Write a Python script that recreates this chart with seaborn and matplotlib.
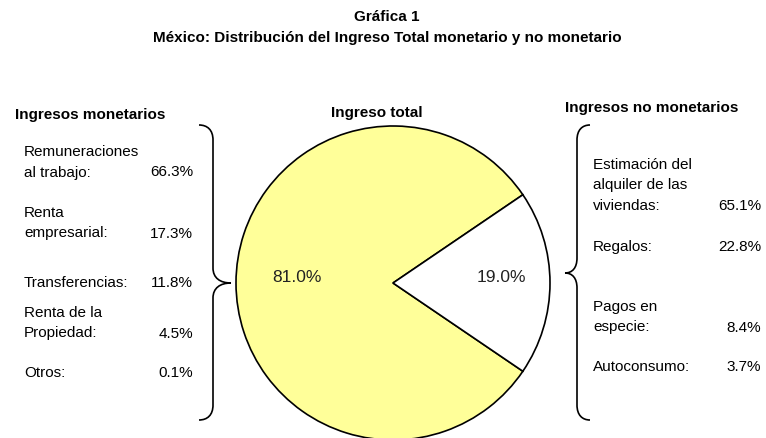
import matplotlib
matplotlib.use("Agg")
import numpy as np
import matplotlib.pyplot as plt
import seaborn as sns
from matplotlib.path import Path
from matplotlib.patches import PathPatch

# --- Data
total_parts = ["Ingresos monetarios", "Ingresos no monetarios"]
total_shares = [81.0, 19.0]
total_colors = ["#FFFF99", "#FFFFFF"]

mon_items = ["Remuneraciones\nal trabajo:", "Renta\nempresarial:", "Transferencias:",
             "Renta de la\nPropiedad:", "Otros:"]
mon_shares = [66.3, 17.3, 11.8, 4.5, 0.1]

nomon_items = ["Estimación del\nalquiler de las\nviviendas:", "Regalos:",
               "Pagos en\nespecie:", "Autoconsumo:"]
nomon_shares = [65.1, 22.8, 8.4, 3.7]

# --- Layout (pixel coordinates, y grows downward)
W, H = 766, 438
mon_y = [152, 213, 283, 313, 373]
nomon_y = [165, 247, 307, 367]
line_h = 20.5
pct_dist = [0.61, 0.69]

sns.set_theme(style="white")
plt.rcParams["font.family"] = ["Liberation Sans", "DejaVu Sans"]
plt.rcParams["text.color"] = "black"

fig = plt.figure(figsize=(W / 100, H / 100), dpi=100)
fig.patch.set_facecolor("white")
ax = fig.add_axes([0, 0, 1, 1])

cx, cy, r = 393, 283, 157
wedges, texts, autotexts = ax.pie(
    total_shares, colors=total_colors, startangle=34.2, counterclock=True,
    center=(cx, cy), radius=r, autopct="%.1f%%",
    wedgeprops=dict(edgecolor="black", linewidth=1.2),
    textprops=dict(fontsize=12.5, color="#222222"))

# nudge percentage labels like the original
for w, t, d in zip(wedges, autotexts, pct_dist):
    ang = np.deg2rad((w.theta1 + w.theta2) / 2)
    t.set_position((cx + d * r * np.cos(ang), cy - 6 + d * r * np.sin(ang)))

ax.set_xlim(0, W)
ax.set_ylim(H, 0)
ax.set_aspect("equal")
ax.axis("off")

# titles
ax.text(387, 17, "Gráfica 1", ha="center", va="center", fontsize=11, fontweight="bold")
ax.text(387, 38, "México: Distribución del Ingreso Total monetario y no monetario",
        ha="center", va="center", fontsize=11, fontweight="bold")
ax.text(15, 115, "Ingresos monetarios", ha="left", va="center", fontsize=11, fontweight="bold")
ax.text(377, 113, "Ingreso total", ha="center", va="center", fontsize=11, fontweight="bold")
ax.text(565, 108, "Ingresos no monetarios", ha="left", va="center", fontsize=11, fontweight="bold")


def item_block(items, shares, ys, x_left, x_right):
    for label, share, y0 in zip(items, shares, ys):
        lines = label.split("\n")
        for i, ln in enumerate(lines):
            ax.text(x_left, y0 + i * line_h, ln, ha="left", va="center", fontsize=11)
        ax.text(x_right, y0 + (len(lines) - 1) * line_h, f"{share:.1f}%",
                ha="right", va="center", fontsize=11)


item_block(mon_items, mon_shares, mon_y, 24, 193)
item_block(nomon_items, nomon_shares, nomon_y, 593, 761)


def brace(x_end, x_line, x_tip, y_top, y_mid, y_bot):
    d = x_line - x_end
    t = x_tip - x_line
    verts = [
        (x_end, y_top),
        (x_line - d * 0.4, y_top), (x_line, y_top + 5), (x_line, y_top + 15),
        (x_line, y_mid - 15),
        (x_line, y_mid - 5), (x_line + t * 0.4, y_mid), (x_tip, y_mid),
        (x_line + t * 0.4, y_mid), (x_line, y_mid + 5), (x_line, y_mid + 15),
        (x_line, y_bot - 15),
        (x_line, y_bot - 5), (x_line - d * 0.4, y_bot), (x_end, y_bot),
    ]
    codes = [Path.MOVETO,
             Path.CURVE4, Path.CURVE4, Path.CURVE4,
             Path.LINETO,
             Path.CURVE4, Path.CURVE4, Path.CURVE4,
             Path.CURVE4, Path.CURVE4, Path.CURVE4,
             Path.LINETO,
             Path.CURVE4, Path.CURVE4, Path.CURVE4]
    ax.add_patch(PathPatch(Path(verts, codes), facecolor="none", edgecolor="black", lw=1.2))


brace(199, 213, 231, 125, 283, 420)
brace(590, 577, 565, 125, 273, 420)

fig.savefig("out.png", dpi=100, facecolor="white")
